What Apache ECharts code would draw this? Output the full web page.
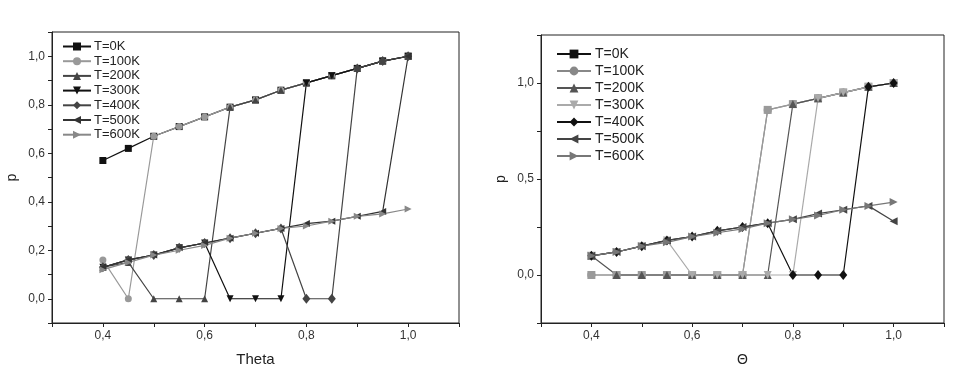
<!DOCTYPE html>
<html lang="en">

<head>
    <meta charset="UTF-8" />
    <title>p vs Theta</title>
    <script src="https://cdn.jsdelivr.net/npm/echarts@6/dist/echarts.min.js"></script>
    <style>
        * {
            margin: 0;
        }

        #chart {
            width: 974px;
            height: 372px;
            background-color: #fff;
        }
    </style>
</head>

<body>
    <div id="chart"></div>
    <script>
        const theta = [0.4, 0.45, 0.5, 0.55, 0.6, 0.65, 0.7, 0.75, 0.8, 0.85, 0.9, 0.95, 1.0];
        const temps = ["T=0K", "T=100K", "T=200K", "T=300K", "T=400K", "T=500K", "T=600K"];

        // left panel (Theta)
        const left0 = [0.57, 0.62, 0.67, 0.71, 0.75, 0.79, 0.82, 0.86, 0.89, 0.92, 0.95, 0.98, 1.0];
        const left100 = [0.16, 0.0, 0.67, 0.71, 0.75, 0.79, 0.82, 0.86, 0.89, 0.92, 0.95, 0.98, 1.0];
        const left200 = [0.13, 0.15, 0.0, 0.0, 0.0, 0.79, 0.82, 0.86, 0.89, 0.92, 0.95, 0.98, 1.0];
        const left300 = [0.13, 0.16, 0.18, 0.21, 0.23, 0.0, 0.0, 0.0, 0.89, 0.92, 0.95, 0.98, 1.0];
        const left400 = [0.13, 0.16, 0.18, 0.21, 0.23, 0.25, 0.27, 0.29, 0.0, 0.0, 0.95, 0.98, 1.0];
        const left500 = [0.13, 0.16, 0.18, 0.21, 0.23, 0.25, 0.27, 0.29, 0.31, 0.32, 0.34, 0.36, 1.0];
        const left600 = [0.12, 0.15, 0.18, 0.2, 0.22, 0.25, 0.27, 0.29, 0.3, 0.32, 0.34, 0.35, 0.37];

        // right panel (Θ)
        const right0 = [0.0, 0.0, 0.0, 0.0, 0.0, 0.0, 0.0, 0.86, 0.89, 0.92, 0.95, 0.98, 1.0];
        const right100 = [0.0, 0.0, 0.0, 0.0, 0.0, 0.0, 0.0, 0.86, 0.89, 0.92, 0.95, 0.98, 1.0];
        const right200 = [0.1, 0.0, 0.0, 0.0, 0.0, 0.0, 0.0, 0.0, 0.89, 0.92, 0.95, 0.98, 1.0];
        const right300 = [0.1, 0.12, 0.15, 0.18, 0.0, 0.0, 0.0, 0.0, 0.0, 0.92, 0.95, 0.98, 1.0];
        const right400 = [0.1, 0.12, 0.15, 0.18, 0.2, 0.23, 0.25, 0.27, 0.0, 0.0, 0.0, 0.98, 1.0];
        const right500 = [0.1, 0.12, 0.15, 0.18, 0.2, 0.23, 0.25, 0.27, 0.29, 0.32, 0.34, 0.36, 0.28];
        const right600 = [0.1, 0.12, 0.15, 0.17, 0.2, 0.22, 0.24, 0.27, 0.29, 0.31, 0.34, 0.36, 0.38];

        const symbols = [
            { symbol: "rect", rotate: 0 },
            { symbol: "circle", rotate: 0 },
            { symbol: "triangle", rotate: 0 },
            { symbol: "triangle", rotate: 180 },
            { symbol: "diamond", rotate: 0 },
            { symbol: "triangle", rotate: 90 },
            { symbol: "triangle", rotate: -90 },
        ];
        const leftColors = ["#111", "#999", "#444", "#111", "#444", "#333", "#888"];
        const rightColors = ["#9a9a9a", "#888", "#555", "#aaa", "#111", "#444", "#777"];
        const rightLegendColors = ["#111", "#888", "#555", "#aaa", "#111", "#444", "#777"];

        const font = "Liberation Sans";

        function makeSeries(prefix, values, colors, idx, size) {
            return values.map((vals, i) => ({
                name: prefix + temps[i],
                type: "line",
                xAxisIndex: idx,
                yAxisIndex: idx,
                data: theta.map((t, k) => [t, vals[k]]),
                symbol: symbols[i].symbol,
                symbolRotate: symbols[i].rotate,
                symbolSize: symbols[i].symbol === "diamond" ? [8, 10] : size,
                lineStyle: { color: colors[i], width: 1.2 },
                itemStyle: { color: colors[i] },
                animation: false,
            }));
        }

        const leftSeries = makeSeries("L|", [left0, left100, left200, left300, left400, left500, left600], leftColors, 0, 7);
        const rightSeries = makeSeries("R|", [right0, right100, right200, right300, right400, right500, right600], rightColors, 1, 8);
        // T=0K drawn above T=100K on the right panel
        const rightOrdered = [rightSeries[1], rightSeries[0]].concat(rightSeries.slice(2));

        function fmt(v, step) {
            return Math.round(v / step) % 2 === 0 ? v.toFixed(1).replace(".", ",") : "";
        }

        function valueAxis(idx, min, max, interval, name, gap) {
            return {
                type: "value",
                gridIndex: idx,
                min: min,
                max: max,
                interval: interval,
                name: name,
                nameLocation: "middle",
                nameGap: gap,
                splitLine: { show: false },
                axisLine: { show: true, onZero: false, lineStyle: { color: "#222", width: 1 } },
                axisTick: { show: true, length: 4, lineStyle: { color: "#222" } },
                axisLabel: {
                    color: "#333",
                    fontFamily: font,
                    fontSize: 12,
                    margin: 7,
                    showMinLabel: true,
                    showMaxLabel: true,
                    formatter: (v) => fmt(v, interval),
                },
            };
        }

        const chart = echarts.init(document.getElementById("chart"));
        const option = {
            backgroundColor: "#fff",
            animation: false,
            grid: [
                { left: 52, top: 32, right: 515, bottom: 48, show: true, borderColor: "#222", borderWidth: 1 },
                { left: 541, top: 35, right: 30, bottom: 45, show: true, borderColor: "#222", borderWidth: 1 },
            ],
            legend: [
                {
                    data: temps.map((t) => "L|" + t),
                    orient: "vertical",
                    left: 57,
                    top: 35,
                    itemWidth: 28,
                    itemHeight: 10,
                    itemGap: 1.7,
                    textStyle: { fontFamily: font, fontSize: 13, color: "#222", padding: [0, 0, 0, -2] },
                    formatter: (n) => n.split("|").pop(),
                },
                {
                    data: temps.map((t, i) => ({
                        name: "R|" + t,
                        itemStyle: { color: rightLegendColors[i] },
                        lineStyle: { color: rightLegendColors[i] },
                    })),
                    orient: "vertical",
                    left: 551,
                    top: 42,
                    itemWidth: 34,
                    itemHeight: 11,
                    itemGap: 3,
                    textStyle: { fontFamily: font, fontSize: 14, color: "#222", padding: [0, 0, 0, -1] },
                    formatter: (n) => n.split("|").pop(),
                },
            ],
            xAxis: [
                Object.assign(valueAxis(0, 0.3, 1.1, 0.1, "Theta", 29), {
                    nameTextStyle: { fontFamily: font, fontSize: 15, color: "#222" },
                }),
                Object.assign(valueAxis(1, 0.3, 1.1, 0.1, "Θ", 30), {
                    nameTextStyle: { fontFamily: font, fontSize: 14, color: "#222" },
                }),
            ],
            yAxis: [
                Object.assign(valueAxis(0, -0.1, 1.1, 0.1, "p", 33), {
                    nameTextStyle: { fontFamily: font, fontSize: 14, color: "#222" },
                }),
                Object.assign(valueAxis(1, -0.25, 1.25, 0.25, "p", 33), {
                    nameTextStyle: { fontFamily: font, fontSize: 14, color: "#222" },
                }),
            ],
            series: leftSeries.concat(rightOrdered),
        };
        chart.setOption(option);
    </script>
</body>

</html>
